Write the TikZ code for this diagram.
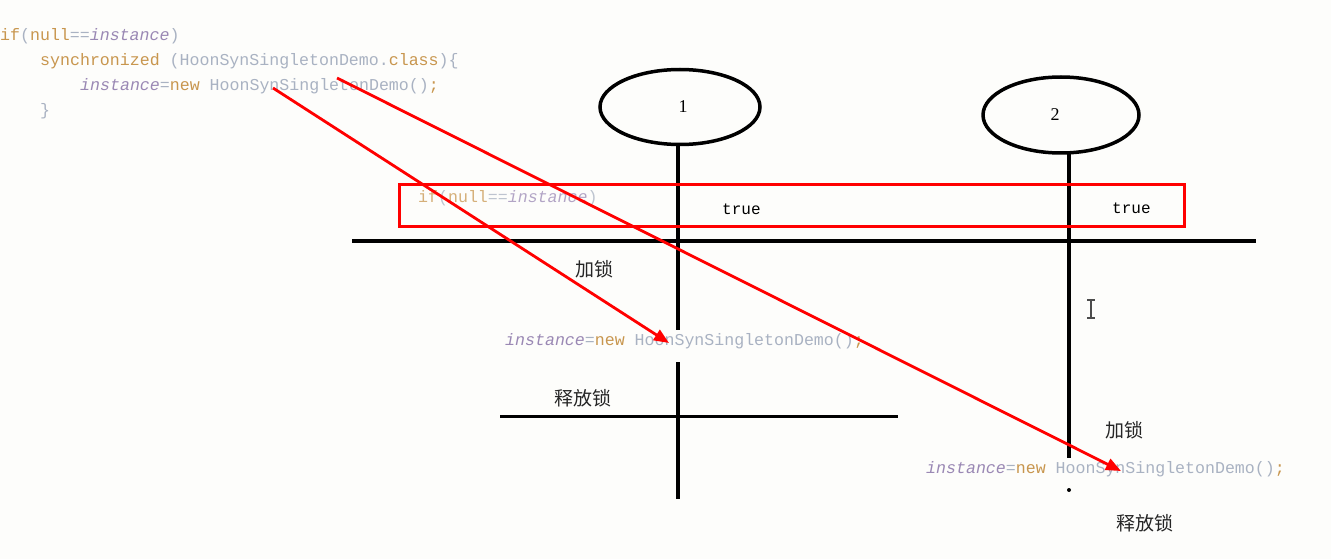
\documentclass[tikz,border=0pt]{standalone}
\usepackage{fontspec}
\setmainfont{Liberation Serif}
\setmonofont{Liberation Mono}
\newfontfamily\cjk{Noto Sans CJK SC}
\usetikzlibrary{shapes.geometric,arrows.meta}
\definecolor{kw}{HTML}{C8964E}
\definecolor{var}{HTML}{9A88B4}
\definecolor{gr}{HTML}{A9B2C2}
\definecolor{bg}{HTML}{FDFDFB}
\definecolor{rd}{HTML}{FF0000}
\newcommand{\kwd}[1]{\textcolor{kw}{#1}}
\newcommand{\vr}[1]{\textcolor{var}{\itshape #1}}
\newcommand{\gry}[1]{\textcolor{gr}{#1}}
\tikzset{
  code/.style={anchor=base west, inner sep=0pt, font=\fontsize{16.6}{18}\ttfamily},
  zh/.style={anchor=base west, inner sep=0pt, font=\fontsize{19}{21}\cjk, text=black!85},
  tru/.style={anchor=base west, inner sep=0pt, font=\fontsize{16}{18}\ttfamily, text=black},
  thread/.style={draw, ellipse, line width=3.5pt, inner sep=0pt, font=\fontsize{18}{20}\selectfont},
  life/.style={line width=4pt},
  bar/.style={line width=3.5pt},
  redarrow/.style={draw=rd, line width=2.8pt, -{Triangle[length=15pt,width=12pt]}},
}
\begin{document}
\begin{tikzpicture}[x=1pt,y=-1pt]
\fill[bg] (0,0) rectangle (1331,559);
\useasboundingbox (0,0) rectangle (1331,559);

% code block
\node[code] (c1) at (0,41) {\kwd{if}\gry{(}\kwd{null}\gry{==}\vr{instance}\gry{)}};
\node[code] (c2) at (40,66) {\kwd{synchronized} \gry{(HoonSynSingletonDemo.}\kwd{class}\gry{)\{}};
\node[code] (c3) at (80,91) {\vr{instance}\gry{=}\kwd{new} \gry{HoonSynSingletonDemo()}\kwd{;}};
\node[code] (c4) at (40,116) {\gry{\}}};

% threads
\node[thread, minimum width=160pt, minimum height=75pt] (e1) at (680,107) {\hspace{6pt}1};
\node[thread, minimum width=156pt, minimum height=76pt] (e2) at (1061,115) {\hspace{-12pt}2};

\coordinate (v1a) at (678,143);
\coordinate (v1b) at (678,330);
\coordinate (v1c) at (678,362);
\coordinate (v1d) at (678,499);
\coordinate (v2a) at (1069,152);
\coordinate (v2b) at (1069,458);
\draw[life] (v1a) -- (v1b);
\draw[life] (v1c) -- (v1d);
\draw[life] (v2a) -- (v2b);
\fill (1069,490) circle (2pt);

% bars
\coordinate (h1a) at (352,241);
\coordinate (h1b) at (1256,241);
\draw[bar, line width=4pt] (h1a) -- (h1b);
\coordinate (h2a) at (500,416);
\coordinate (h2b) at (898,416);
\draw[bar, line width=3pt] (h2a) -- (h2b);

% red box
\node[draw=rd, line width=3pt, minimum width=785pt, minimum height=42pt, inner sep=0pt, anchor=north west] (box) at (398,183) {};
\node[code, opacity=0.75] (bc) at (418,202) {\kwd{if}\gry{(}\kwd{null}\gry{==}\vr{instance}\gry{)}};
\node[tru] (t1) at (722,214) {true};
\node[tru] (t2) at (1112,213) {true};

% thread 1 texts
\node[zh] (l1) at (575,276) {加锁};
\node[code] (i1) at (505,345) {\vr{instance}\gry{=}\kwd{new} \gry{HoonSynSingletonDemo()}\kwd{;}};
\node[zh] (r1) at (554,405) {释放锁};

% thread 2 texts
\node[zh] (l2) at (1105,437) {加锁};
\node[code] (i2) at (926,473) {\vr{instance}\gry{=}\kwd{new} \gry{HoonSynSingletonDemo()}\kwd{;}};
\node[zh] (r2) at (1116,530) {释放锁};

% cursor
\draw[line width=1.2pt, black!70] (1091,301) -- (1091,317) (1087,300) -- (1095,300) (1087,318) -- (1095,318);

% red arrows
\coordinate (s1) at (273,88);
\coordinate (d1) at (669,343);
\coordinate (s2) at (337,78);
\coordinate (d2) at (1121,471);
\draw[redarrow] (s1) -- (d1);
\draw[redarrow] (s2) -- (d2);
\end{tikzpicture}
\end{document}
